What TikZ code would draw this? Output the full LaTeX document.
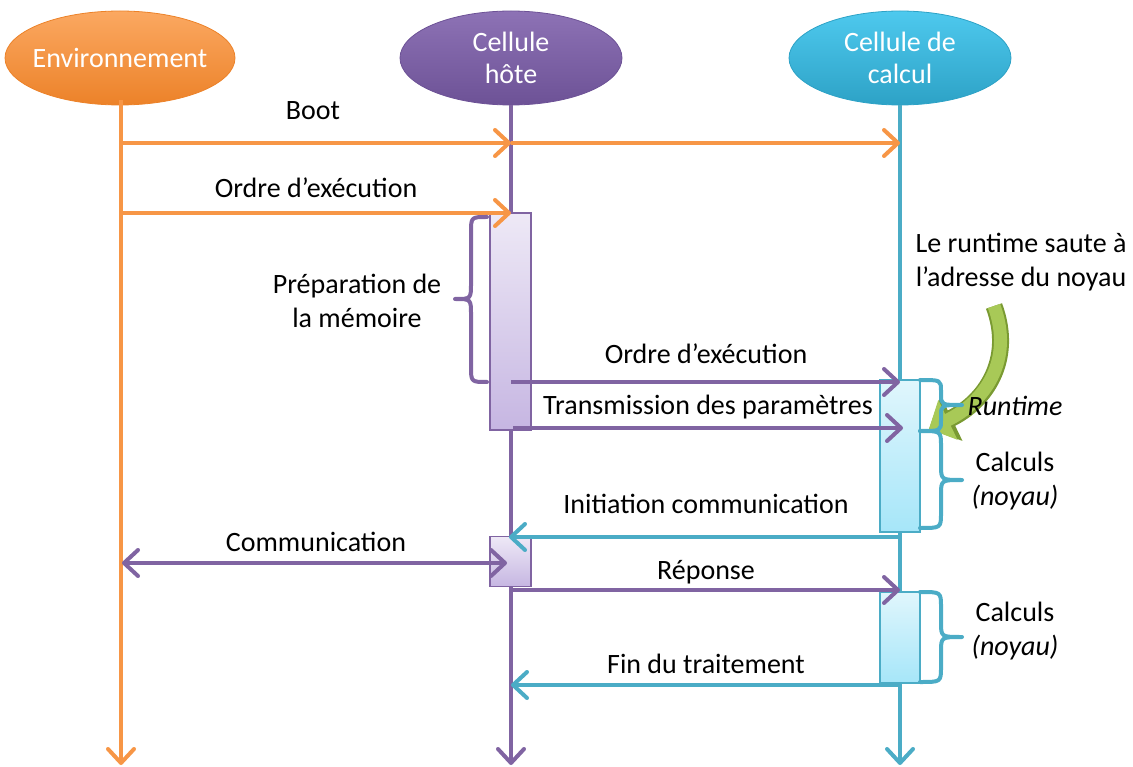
\documentclass[tikz,border=0pt]{standalone}
\usepackage{fontspec}
\setmainfont{Carlito}
\usetikzlibrary{arrows.meta,shapes.geometric}
\definecolor{corange}{HTML}{F79646}
\definecolor{cpurple}{HTML}{8064A2}
\definecolor{ccyan}{HTML}{4BACC6}
\definecolor{orTop}{HTML}{FBA861}
\definecolor{orBot}{HTML}{EC8229}
\definecolor{puTop}{HTML}{8D72B5}
\definecolor{puBot}{HTML}{6D5296}
\definecolor{cyTop}{HTML}{4EC9EE}
\definecolor{cyBot}{HTML}{2DA2C6}
\definecolor{boxPTop}{HTML}{EEE9F6}
\definecolor{boxPBot}{HTML}{C6B6E2}
\definecolor{boxCTop}{HTML}{E0F6FC}
\definecolor{boxCBot}{HTML}{A6E6F9}
\definecolor{gLight}{HTML}{A8C957}
\definecolor{gDark}{HTML}{7A9A32}
\begin{document}
\begin{tikzpicture}[x=1pt,y=-1pt,
  head/.style={ellipse, minimum width=230pt, minimum height=94pt, text=white, align=center,
    font=\fontsize{28}{32}\selectfont, inner sep=0pt, line width=0.8pt},
  life/.style={line width=4pt, -{Straight Barb[length=14pt,width=26pt,round]}},
  msg/.style={line width=4pt, -{Straight Barb[length=14pt,width=26pt,round]}},
  dmsg/.style={line width=4pt, {Straight Barb[length=14pt,width=26pt,round]}-{Straight Barb[length=14pt,width=26pt,round]}},
  lbl/.style={font=\fontsize{28}{34}\selectfont, inner sep=0pt, align=center},
  actP/.style={draw=cpurple, line width=1.2pt, top color=boxPTop, bottom color=boxPBot, minimum width=41pt, inner sep=0pt},
  actC/.style={draw=ccyan, line width=1.2pt, top color=boxCTop, bottom color=boxCBot, minimum width=40pt, inner sep=0pt},
  brace/.style={line width=4pt, line cap=round, line join=round},
]
\useasboundingbox (0,0) rectangle (1133,767);

% heads
\node[head, top color=orTop, bottom color=orBot, draw=orBot, inner xsep=-7pt] (env) at (120,58) {Environnement};
\node[head, top color=puTop, bottom color=puBot, draw=puBot, minimum width=222pt] (hote) at (511,58) {Cellule\\hôte};
\node[head, top color=cyTop, bottom color=cyBot, draw=cyBot, minimum width=222pt] (calc) at (900,58) {Cellule de\\calcul};

% lifeline ends
\coordinate (envEnd) at (121,765);
\coordinate (hoteEnd) at (511,765);
\coordinate (calcEnd) at (900,765);
\coordinate (envTop) at (121,100);
\draw[life, corange] (envTop) -- (envEnd);
\draw[life, cpurple] (hote.south) -- (hoteEnd);
\draw[life, ccyan] (calc.south) -- (calcEnd);

% activation boxes
\node[actP, minimum height=217pt] (aH1) at (510.5,321.5) {};
\node[actP, minimum height=50pt] (aH2) at (510.5,561.5) {};
\node[actC, minimum height=152pt] (aC1) at (900,456) {};
\node[actC, minimum height=91pt] (aC2) at (900,637.5) {};

% message points
\coordinate (e1) at (121,143); \coordinate (h1) at (511,143); \coordinate (c1) at (900,143);
\coordinate (e2) at (121,213); \coordinate (h2) at (511,213);
\coordinate (h3) at (511,382); \coordinate (c3) at (900,382);
\coordinate (h4) at (513,428); \coordinate (c4) at (903,428);
\coordinate (c5) at (900,537); \coordinate (h5) at (509,537);
\coordinate (e6) at (122,563); \coordinate (h6) at (507,563);
\coordinate (h7) at (513,590); \coordinate (c7) at (900,590);
\coordinate (c8) at (900,685); \coordinate (h8) at (511,685);

\draw[msg, corange] (e1) -- (h1);
\draw[msg, corange] (h1) -- (c1);
\draw[msg, corange] (e2) -- (h2);
\draw[msg, cpurple] (h3) -- (c3);
\draw[msg, cpurple] (h4) -- (c4);
\draw[msg, ccyan] (c5) -- (h5);
\draw[dmsg, cpurple] (e6) -- (h6);
\draw[msg, cpurple] (h7) -- (c7);
\draw[msg, ccyan] (c8) -- (h8);

% green arrow
\coordinate (gStart) at (994,306);
\coordinate (gEnd) at (929,429);
\draw[line width=17pt, draw=gDark, -{Triangle[length=25pt,width=49pt]}] (gStart) .. controls (1014,360) and (985,402) .. (gEnd);
\draw[line width=13pt, draw=gLight, -{Triangle[length=21pt,width=43pt]}] (gStart) .. controls (1014,360) and (985,402) .. (gEnd);

% braces
\draw[brace, cpurple] (487,217) .. controls (471,217) .. (471,233) -- (471,283) .. controls (471,299) .. (455,299) .. controls (471,299) .. (471,315) -- (471,366) .. controls (471,382) .. (487,382);
\draw[brace, ccyan] (920,380) .. controls (941,380) .. (941,391) -- (941,394) .. controls (941,405) .. (962,405) .. controls (941,405) .. (941,416) -- (941,420) .. controls (941,431) .. (920,431);
\draw[brace, ccyan] (920,431) .. controls (941,431) .. (941,446) -- (941,465) .. controls (941,480) .. (962,480) .. controls (941,480) .. (941,495) -- (941,513) .. controls (941,528) .. (920,528);
\draw[brace, ccyan] (920,592) .. controls (941,592) .. (941,607) -- (941,622) .. controls (941,637) .. (962,637) .. controls (941,637) .. (941,652) -- (941,667) .. controls (941,682) .. (920,682);

% labels
\node[lbl] (lBoot) at (313,111) {Boot};
\node[lbl] (lOrdre1) at (316,188) {Ordre d’exécution};
\node[lbl] (lPrep) at (357,301) {Préparation de\\la mémoire};
\node[lbl] (lOrdre2) at (706,354) {Ordre d’exécution};
\node[lbl] (lTrans) at (708,407) {Transmission des paramètres};
\node[lbl] (lInit) at (706,504) {Initiation communication};
\node[lbl] (lComm) at (316,542) {Communication};
\node[lbl] (lRep) at (706,572) {Réponse};
\node[lbl] (lFin) at (706,664) {Fin du traitement};
\node[lbl] (lSaute) at (1021,262) {Le runtime saute à\\l’adresse du noyau};
\node[lbl] (lRun) at (1015,406) {\itshape Runtime};
\node[lbl] (lCalc1) at (1015,481) {Calculs\\\itshape (noyau)};
\node[lbl] (lCalc2) at (1015,631) {Calculs\\\itshape (noyau)};
\end{tikzpicture}
\end{document}
